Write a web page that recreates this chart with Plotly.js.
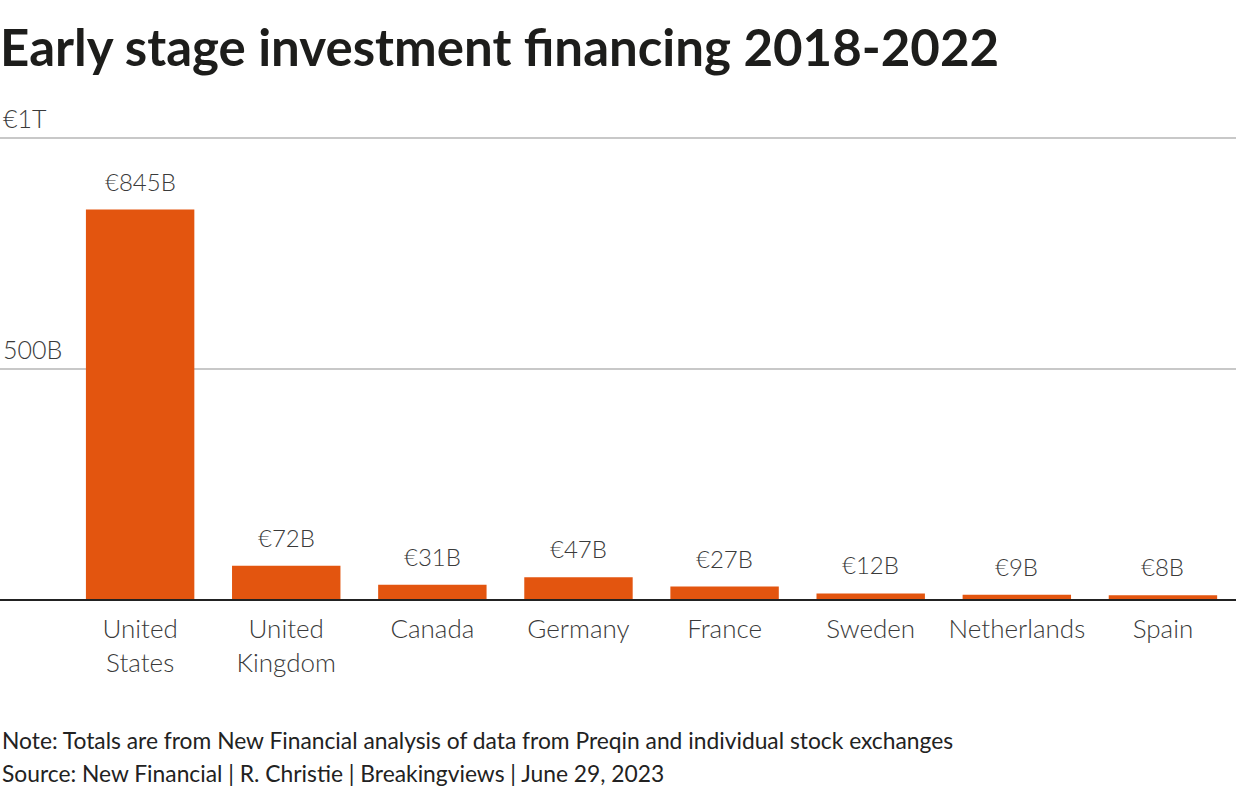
<!DOCTYPE html>
<html>
<head>
<meta charset="utf-8">
<script src="https://cdn.plot.ly/plotly-3.0.1.min.js"></script>
<style>html,body{margin:0;padding:0;background:#fff;}#chart{width:1236px;height:792px;}</style>
</head>
<body>
<div id="chart"></div>
<script>
const categories = ["United States", "United Kingdom", "Canada", "Germany", "France", "Sweden", "Netherlands", "Spain"];
const tickLabels = ["United<br>States", "United<br>Kingdom", "Canada", "Germany", "France", "Sweden", "Netherlands", "Spain"];
const values = [845, 72, 31, 47, 27, 12, 9, 8];
const valueLabels = ["€845B", "€72B", "€31B", "€47B", "€27B", "€12B", "€9B", "€8B"];
const yTickVals = [500, 1000];
const yTickText = ["500B", "€1T"];
const titleText = "Early stage investment financing 2018-2022";
const noteText = "Note: Totals are from New Financial analysis of data from Preqin and individual stock exchanges";
const sourceText = "Source: New Financial | R. Christie | Breakingviews | June 29, 2023";

const FONT = "Lato, 'Source Sans Pro', 'Open Sans', sans-serif";
const LIGHT = {family: FONT, size: 26, color: "#3a3a3a", weight: 300};

const MT = 92, MB = 193, H = 792;
const plotH = H - MT - MB;
const paperY = py => (H - MB - py) / plotH;

const trace = {
  type: "bar",
  x: categories,
  y: values,
  width: 0.742,
  marker: {color: "#e3550f"},
  hoverinfo: "none"
};

const annotations = categories.map((c, i) => ({
  x: c, y: values[i], xref: "x", yref: "y",
  text: valueLabels[i], showarrow: false,
  yanchor: "bottom", yshift: 12,
  font: {family: FONT, size: 24, color: "#3a3a3a", weight: 300}
}));
annotations.push({
  xref: "paper", yref: "paper", x: 0, xanchor: "left",
  y: paperY(740), yanchor: "middle",
  text: noteText, showarrow: false, align: "left",
  font: {family: FONT, size: 22.8, color: "#222"}
});
annotations.push({
  xref: "paper", yref: "paper", x: 0, xanchor: "left",
  y: paperY(773), yanchor: "middle",
  text: sourceText, showarrow: false, align: "left",
  font: {family: FONT, size: 22.8, color: "#222"}
});

const layout = {
  width: 1236, height: 792,
  margin: {l: 0, r: 0, t: MT, b: MB, pad: 0},
  paper_bgcolor: "#fff", plot_bgcolor: "#fff",
  showlegend: false,
  title: {
    text: "<b>" + titleText + "</b>",
    x: 0, xref: "container", xanchor: "left",
    y: 1 - 48 / 792, yref: "container", yanchor: "middle",
    font: {family: FONT, size: 51, color: "#1d1d1b"}
  },
  xaxis: {
    type: "category",
    range: [-0.959, 7.5],
    tickvals: categories, ticktext: tickLabels,
    showline: true, linecolor: "#222", linewidth: 2,
    showgrid: false, ticks: "", zeroline: false,
    tickfont: LIGHT,
    ticklabelstandoff: 6,
    fixedrange: true
  },
  yaxis: {
    range: [0, 1100],
    tickvals: yTickVals, ticktext: yTickText,
    ticklabelposition: "inside top",
    ticklabelshift: -1,
    ticklabelstandoff: 0,
    showgrid: true, gridcolor: "#c8c8c8", gridwidth: 2,
    zeroline: false, showline: false, ticks: "",
    tickfont: {family: FONT, size: 25, color: "#3a3a3a", weight: 300},
    fixedrange: true
  },
  annotations: annotations
};

Plotly.newPlot("chart", [trace], layout, {displayModeBar: false, staticPlot: true});
</script>
</body>
</html>
